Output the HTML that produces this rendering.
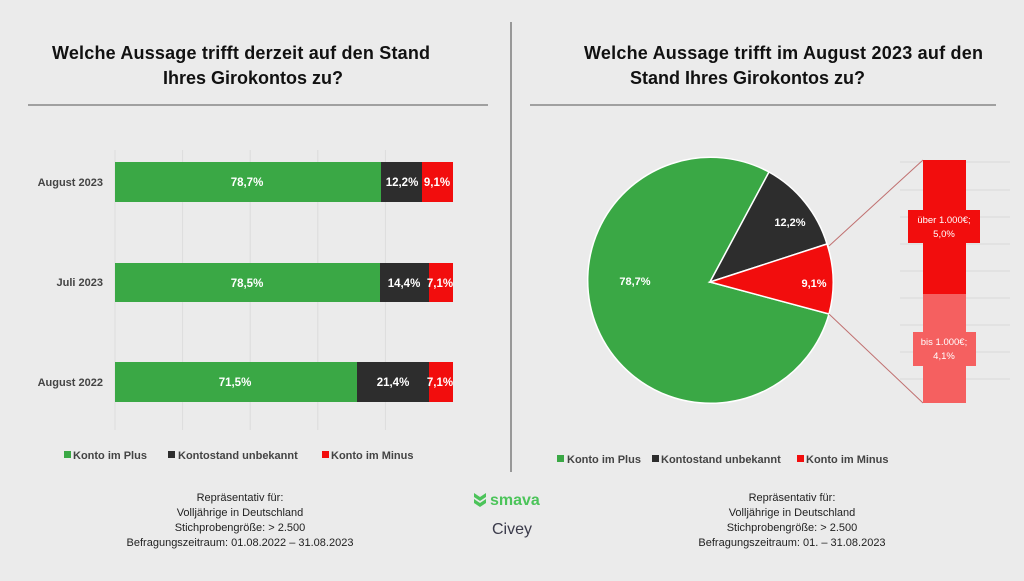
<!DOCTYPE html>
<html><head><meta charset="utf-8"><style>
body{margin:0;width:1024px;height:576px;background:#ebebeb;font-family:"Liberation Sans",sans-serif;overflow:hidden}
</style></head><body>
<svg width="1024" height="576" xmlns="http://www.w3.org/2000/svg" font-family="Liberation Sans, sans-serif">
<rect width="1024" height="576" fill="#ebebeb"/>
<g font-weight="bold" font-size="18" fill="#111">
<text x="52" y="59" textLength="378">Welche Aussage trifft derzeit auf den Stand</text>
<text x="163" y="84">Ihres Girokontos zu?</text>
<text x="584" y="59" textLength="399">Welche Aussage trifft im August 2023 auf den</text>
<text x="630" y="84">Stand Ihres Girokontos zu?</text>
</g>
<line x1="28" y1="105" x2="488" y2="105" stroke="#555" stroke-width="1"/>
<line x1="530" y1="105" x2="996" y2="105" stroke="#555" stroke-width="1"/>
<line x1="511" y1="22" x2="511" y2="472" stroke="#444" stroke-width="1"/>
<g stroke="#dcdcdc" stroke-width="1">
<line x1="115" y1="150" x2="115" y2="430"/><line x1="182.6" y1="150" x2="182.6" y2="430"/><line x1="250.2" y1="150" x2="250.2" y2="430"/><line x1="317.8" y1="150" x2="317.8" y2="430"/><line x1="385.4" y1="150" x2="385.4" y2="430"/>
</g>
<g font-size="11" font-weight="bold" fill="#444" text-anchor="end">
<text x="103" y="186">August 2023</text><text x="103" y="286">Juli 2023</text><text x="103" y="386">August 2022</text>
</g>
<g>
<rect x="115" y="162" width="266" height="40" fill="#3aa845"/><rect x="381" y="162" width="41" height="40" fill="#2d2d2d"/><rect x="422" y="162" width="31" height="40" fill="#f20d0d"/>
<rect x="115" y="263" width="265" height="39" fill="#3aa845"/><rect x="380" y="263" width="49" height="39" fill="#2d2d2d"/><rect x="429" y="263" width="24" height="39" fill="#f20d0d"/>
<rect x="115" y="362" width="242" height="40" fill="#3aa845"/><rect x="357" y="362" width="72" height="40" fill="#2d2d2d"/><rect x="429" y="362" width="24" height="40" fill="#f20d0d"/>
</g>
<g font-size="11.5" font-weight="bold" fill="#fff" text-anchor="middle">
<text x="247" y="186">78,7%</text><text x="402" y="186">12,2%</text><text x="437" y="186">9,1%</text>
<text x="247" y="287">78,5%</text><text x="404" y="287">14,4%</text><text x="440" y="287">7,1%</text>
<text x="235" y="386">71,5%</text><text x="393" y="386">21,4%</text><text x="440" y="386">7,1%</text>
</g>
<g font-size="11" font-weight="bold" fill="#444">
<rect x="64" y="451" width="7" height="7" fill="#3aa845"/><text x="73" y="459">Konto im Plus</text>
<rect x="168" y="451" width="7" height="7" fill="#2d2d2d"/><text x="178" y="459">Kontostand unbekannt</text>
<rect x="322" y="451" width="7" height="7" fill="#f20d0d"/><text x="331" y="459">Konto im Minus</text>
<rect x="557" y="455" width="7" height="7" fill="#3aa845"/><text x="567" y="463">Konto im Plus</text>
<rect x="652" y="455" width="7" height="7" fill="#2d2d2d"/><text x="661" y="463">Kontostand unbekannt</text>
<rect x="797" y="455" width="7" height="7" fill="#f20d0d"/><text x="806" y="463">Konto im Minus</text>
</g>
<g stroke="#d8d8d8" stroke-width="1">
<line x1="900" y1="162" x2="1010" y2="162"/><line x1="900" y1="190" x2="1010" y2="190"/><line x1="900" y1="217" x2="1010" y2="217"/><line x1="900" y1="244" x2="1010" y2="244"/><line x1="900" y1="271" x2="1010" y2="271"/><line x1="900" y1="298" x2="1010" y2="298"/><line x1="900" y1="325" x2="1010" y2="325"/><line x1="900" y1="352" x2="1010" y2="352"/><line x1="900" y1="379" x2="1010" y2="379"/>
</g>
<path d="M710 282 L769 172 A123 123 0 1 0 829 314 Z" fill="#3aa845" stroke="#fff" stroke-width="1.5"/>
<path d="M710 282 L769 172 A123 123 0 0 1 827 244 Z" fill="#2d2d2d" stroke="#fff" stroke-width="1.5"/>
<path d="M710 282 L827 244 A123 123 0 0 1 829 314 Z" fill="#f20d0d" stroke="#fff" stroke-width="1.5"/>
<g font-size="11" font-weight="bold" fill="#fff" text-anchor="middle">
<text x="635" y="285">78,7%</text><text x="790" y="226">12,2%</text><text x="814" y="287">9,1%</text>
</g>
<line x1="829" y1="246" x2="923" y2="160" stroke="#c07070" stroke-width="1"/>
<line x1="829" y1="314" x2="923" y2="403" stroke="#c07070" stroke-width="1"/>
<rect x="923" y="160" width="43" height="134" fill="#f20d0d"/>
<rect x="923" y="294" width="43" height="109" fill="#f56060"/>
<rect x="908" y="210" width="72" height="33" fill="#f20d0d"/>
<rect x="913" y="332" width="63" height="34" fill="#f56060"/>
<g font-size="9.5" fill="#fff" text-anchor="middle">
<text x="944" y="223">über 1.000€;</text><text x="944" y="237">5,0%</text>
<text x="944" y="345">bis 1.000€;</text><text x="944" y="359">4,1%</text>
</g>
<g font-size="11" fill="#222" text-anchor="middle">
<text x="240" y="501">Repräsentativ für:</text><text x="240" y="516">Volljährige in Deutschland</text><text x="240" y="531">Stichprobengröße: &gt; 2.500</text><text x="240" y="546">Befragungszeitraum: 01.08.2022 – 31.08.2023</text>
<text x="792" y="501">Repräsentativ für:</text><text x="792" y="516">Volljährige in Deutschland</text><text x="792" y="531">Stichprobengröße: &gt; 2.500</text><text x="792" y="546">Befragungszeitraum: 01. – 31.08.2023</text>
</g>
<path d="M474 493 l6 4 l6 -4 v4 l-6 4 l-6 -4z M474 499 l6 4 l6 -4 v4 l-6 4 l-6 -4z" fill="#4cc45a"/>
<text x="490" y="505" font-size="16" font-weight="bold" fill="#4cc45a">smava</text>
<text x="492" y="534" font-size="16" fill="#3a3a4a">Civey</text>
</svg>
</body></html>
